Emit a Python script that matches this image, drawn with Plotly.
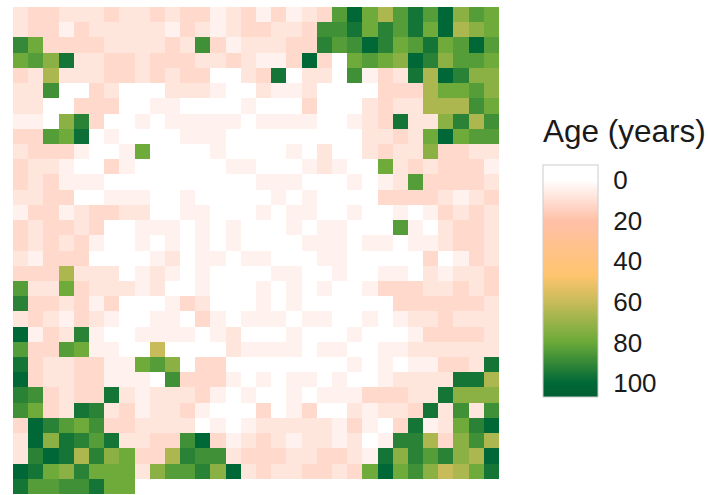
import plotly.graph_objects as go

N = None
age_rows = [
 [8,12,12,8,8,8,12,8,8,12,8,12,12,4,8,12,4,12,4,8,12,84,100,79,66,84,96,84,100,73,84,79],
 [8,12,12,4,12,8,8,8,8,8,4,12,8,4,8,12,12,8,8,12,88,88,96,79,92,84,96,79,100,66,73,79],
 [90,79,12,12,12,12,8,8,8,8,12,8,88,12,4,8,8,8,12,12,92,84,88,100,92,79,84,96,79,84,100,84],
 [79,84,73,96,8,8,12,12,8,12,12,12,8,8,12,8,4,4,12,100,12,0,79,84,79,73,100,92,73,84,84,79],
 [12,8,66,8,8,8,12,12,8,12,8,12,12,0,0,8,12,96,0,8,8,0,88,4,12,8,96,66,100,92,73,73],
 [8,8,88,0,0,12,8,0,0,0,8,8,8,4,0,0,8,4,4,8,0,0,0,0,12,12,12,66,79,79,84,73],
 [8,8,0,0,12,12,12,0,0,4,4,0,0,0,0,4,0,0,0,12,0,0,0,8,12,8,8,66,66,66,88,79],
 [4,4,0,73,92,12,0,0,4,0,4,4,4,4,4,0,4,4,4,4,0,0,4,8,12,96,8,8,73,92,66,88],
 [12,12,84,79,98,0,4,0,0,0,0,4,4,4,0,0,0,0,0,0,0,0,0,8,8,12,8,79,100,79,84,84],
 [8,12,12,12,4,0,0,4,79,0,0,0,0,4,0,0,0,0,4,0,8,0,0,8,12,8,8,73,12,12,8,8],
 [12,8,8,4,0,0,12,4,0,0,0,0,0,0,4,4,0,0,0,4,8,4,0,0,79,8,12,8,12,12,12,4],
 [12,8,12,4,4,4,0,0,0,0,0,0,0,0,0,0,4,4,4,0,0,0,4,0,4,8,84,12,12,12,12,8],
 [8,8,12,12,0,0,4,4,4,0,0,4,0,0,0,0,0,4,0,4,0,0,0,0,12,12,12,12,8,4,8,12],
 [4,12,12,4,8,12,12,8,8,0,0,4,4,0,0,0,4,0,4,4,0,0,4,0,0,4,0,4,12,8,12,8],
 [12,8,12,12,8,12,0,0,4,4,4,0,4,0,4,0,0,0,4,0,4,4,0,0,0,84,4,0,8,12,12,8],
 [12,8,12,8,12,4,0,0,4,0,4,0,4,0,4,0,0,0,0,4,4,4,0,4,4,0,4,4,8,12,12,8],
 [8,4,12,12,12,0,0,0,0,4,8,0,4,4,0,4,4,0,0,0,4,4,0,0,0,0,0,12,0,4,12,8],
 [12,12,12,66,8,8,8,0,4,8,4,0,4,0,0,0,0,4,4,0,0,4,0,0,4,4,0,8,4,8,8,12],
 [84,8,8,79,12,8,8,8,4,8,0,0,4,0,0,0,4,0,4,0,4,0,0,4,12,12,12,8,8,12,8,12],
 [92,12,12,8,12,4,12,0,0,0,4,12,8,0,0,0,4,0,4,0,0,0,0,0,0,12,12,12,12,12,12,8],
 [8,12,8,4,12,8,4,0,0,4,4,0,12,4,0,4,4,4,0,4,4,0,0,4,0,4,8,8,12,8,8,8],
 [100,4,12,8,92,4,0,0,4,4,4,4,0,4,8,0,0,0,4,0,0,0,4,0,0,0,4,12,12,12,12,8],
 [84,12,12,84,79,4,4,0,0,60,0,0,0,0,8,4,4,4,4,0,4,4,0,0,4,4,8,8,8,8,8,8],
 [96,12,8,8,12,12,4,4,79,84,73,0,12,12,0,0,0,0,0,0,0,0,4,0,4,0,4,4,12,12,8,96],
 [100,12,8,8,12,12,4,4,4,0,88,12,12,12,4,0,4,0,4,4,0,4,0,0,4,8,8,8,8,96,96,66],
 [92,88,12,8,12,12,96,8,4,8,8,8,12,4,0,4,0,0,4,0,4,4,4,12,12,12,8,8,96,73,73,73],
 [88,79,12,8,96,92,8,12,4,8,8,12,4,0,0,0,12,0,4,12,0,0,8,4,8,8,12,96,8,88,8,88],
 [12,100,92,84,79,88,12,12,8,8,8,8,0,4,0,4,8,8,8,8,8,4,12,4,0,12,96,4,8,79,92,100],
 [8,100,73,96,92,84,96,8,8,12,12,88,100,12,4,8,12,8,4,8,8,4,8,0,4,92,92,66,12,73,88,66],
 [8,92,100,96,66,92,73,79,12,12,66,92,88,88,8,12,12,12,8,8,12,12,8,4,96,73,92,84,92,73,66,100],
 [100,96,79,73,92,79,79,79,8,73,84,84,92,73,100,8,12,8,8,12,12,8,12,79,100,79,88,73,60,66,79,96],
 [96,84,84,88,88,96,79,79,N,N,N,N,N,N,N,N,N,N,N,N,N,N,N,N,N,N,N,N,N,N,N,N],
]
tick_values = [0, 20, 40, 60, 80, 100]
legend_title = "Age (years)"
z_low, z_high = -7.4, 107
scale_stops = [-7.4, 0, 20, 47, 60, 80, 100, 107]
scale_colors = ["#ffffff", "#ffffff", "#ffc0a8", "#ffc46e", "#c8bc5a", "#6aaa38", "#006837", "#005f32"]

# Plotly colour bars always run low-to-high upwards; the reference has 0 on top,
# so the heatmap is fed the negated age and the ticks are labelled with the age.
colorscale = sorted([[(z_high - v) / (z_high - z_low), c] for v, c in zip(scale_stops, scale_colors)])
z_plot = [[None if v is None else -v for v in row] for row in age_rows]

W, H = 708, 495
L, R, T, B = 12.67, 499.5, 7.33, 1.3
FONT = "Liberation Sans, Arial, sans-serif"

fig = go.Figure(go.Heatmap(
    z=z_plot, zmin=-z_high, zmax=-z_low, colorscale=colorscale,
    customdata=age_rows, hovertemplate="Age %{customdata}<extra></extra>",
    hoverongaps=False,
    colorbar=dict(
        x=(543.5 - L) / (R - L), xanchor="left", y=(H - B - 397) / (H - T - B), yanchor="bottom",
        len=232, lenmode="pixels", thickness=55, thicknessmode="pixels",
        xpad=0, ypad=0,
        tickmode="array", tickvals=[-v for v in tick_values], ticktext=[str(v) for v in tick_values],
        ticks="outside", ticklen=10, tickcolor="rgba(0,0,0,0)",
        tickfont=dict(family=FONT, size=26, color="#1a1a1a"),
        outlinecolor="#cccccc", outlinewidth=1,
    ),
))
fig.update_xaxes(visible=False, range=[-0.5, 31.5])
fig.update_yaxes(visible=False, range=[31.5, -0.5])
fig.add_annotation(
    text=legend_title, showarrow=False, xref="paper", yref="paper",
    x=(541.5 - L) / (R - L), y=(H - B - 131) / (H - T - B),
    xanchor="left", yanchor="middle",
    font=dict(family=FONT, size=31.5, color="#1a1a1a"),
)
fig.update_layout(
    width=W, height=H, autosize=False,
    margin=dict(l=L, r=W - R, t=T, b=B, pad=0),
    paper_bgcolor="white", plot_bgcolor="white",
)
fig.write_html("out.html", config={"displayModeBar": False},
               post_script="document.body.style.margin='0';")
